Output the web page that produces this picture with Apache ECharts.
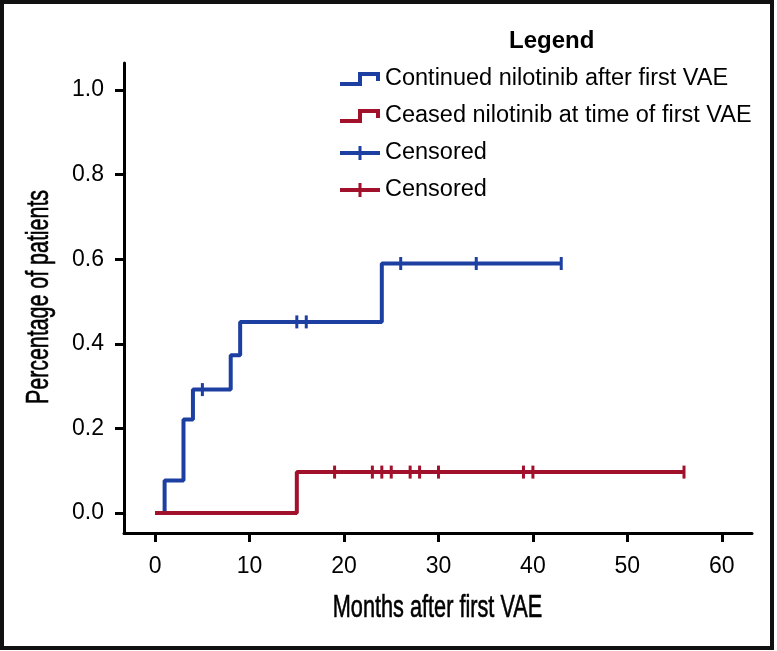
<!DOCTYPE html>
<html>
<head>
    <meta charset="utf-8">
    <script src="https://cdn.jsdelivr.net/npm/echarts@6/dist/echarts.min.js"></script>
    <style>
        html, body { margin: 0; padding: 0; background: #fff; }
        #main { width: 777px; height: 651px; }
    </style>
</head>
<body>
	<div id="main"></div>
	<script type="text/javascript">
		// cumulative incidence steps (months, proportion)
		var contTimes = [0, 1, 3, 4, 8, 9, 24, 43]
		var contValues = [0, 0.077, 0.221, 0.292, 0.373, 0.452, 0.59, 0.59]
		var ceasedTimes = [0, 15, 56]
		var ceasedValues = [0, 0.097, 0.097]
		// censored marks
		var contCensTimes = [5, 15, 16, 26, 34, 43]
		var contCensValues = [0.292, 0.452, 0.452, 0.59, 0.59, 0.59]
		var ceasedCensTimes = [19, 23, 24, 25, 27, 28, 30, 39, 40, 56]
		var ceasedCensValues = [0.097, 0.097, 0.097, 0.097, 0.097, 0.097, 0.097, 0.097, 0.097, 0.097]
		var xTicks = [0, 10, 20, 30, 40, 50, 60]
		var yTicks = [0, 0.2, 0.4, 0.6, 0.8, 1.0]

		var blue = '#1d3fa2'
		var red = '#a1112c'
		var sans = '"Liberation Sans", Arial, sans-serif'

		function pairs(xs, ys){
			var out = []
			for (var i = 0; i < xs.length; i++){
				out.push([xs[i], ys[i]])
			}
			return out
		}

		var stepIcon = 'path://M0,10 L18,10 L18,0 L40,0 L40,9 L36,9 L36,4 L22,4 L22,14 L0,14 Z'
		var censIcon = 'path://M0,5 L18.5,5 L18.5,0 L21.5,0 L21.5,5 L40,5 L40,9 L21.5,9 L21.5,14 L18.5,14 L18.5,9 L0,9 Z'

		var myChart = echarts.init(document.getElementById('main'))
option = {
    animation: false,
    title: {
        text: 'Legend',
        left: 504,
        top: 24,
        textStyle: {
            fontFamily: sans,
            fontSize: 24,
            fontWeight: 'bold',
            color: '#000'
        }
    },
    legend: {
        orient: 'vertical',
        left: 335,
        top: 62,
        itemWidth: 40,
        itemHeight: 14,
        itemGap: 13,
        selectedMode: false,
        itemStyle: { borderWidth: 0 },
        textStyle: {
            fontFamily: sans,
            fontSize: 23.5,
            color: '#000'
        },
        formatter: function (name) {
            return name.indexOf('Censored') === 0 ? 'Censored' : name
        },
        data: [
            { name: 'Continued nilotinib after first VAE', icon: stepIcon },
            { name: 'Ceased nilotinib at time of first VAE', icon: stepIcon },
            { name: 'Censored (continued)', icon: censIcon },
            { name: 'Censored (ceased)', icon: censIcon }
        ]
    },
    grid: {
        left: 124,
        right: 25,
        top: 63,
        bottom: 118
    },
    xAxis: {
        type: 'value',
        min: -3.3,
        max: 63.2,
        splitLine: { show: false },
        axisLine: { show: true, onZero: false, lineStyle: { color: '#000', width: 3 } },
        axisTick: { show: true, customValues: xTicks, length: 9, lineStyle: { color: '#000', width: 3 } },
        axisLabel: { customValues: xTicks, margin: 22, fontFamily: sans, fontSize: 23, color: '#000' }
    },
    yAxis: {
        type: 'value',
        min: -0.047,
        max: 1.064,
        splitLine: { show: false },
        axisLine: { show: true, onZero: false, lineStyle: { color: '#000', width: 3 } },
        axisTick: { show: true, customValues: yTicks, length: 9, lineStyle: { color: '#000', width: 3 } },
        axisLabel: {
            customValues: yTicks,
            margin: 20,
            fontFamily: sans,
            fontSize: 23,
            color: '#000',
            formatter: function (v) { return v.toFixed(1) }
        }
    },
    // condensed axis titles (no narrow font installed, so squeeze them)
    graphic: [{
        type: 'rect',
        shape: { x: 2, y: 2, width: 770, height: 646 },
        style: { fill: 'none', stroke: '#111', lineWidth: 4 },
        silent: true
    },{
        type: 'text',
        x: 437.5,
        y: 608,
        scaleX: 0.7,
        style: {
            text: 'Months after first VAE',
            x: 0, y: 0,
            align: 'center',
            verticalAlign: 'middle',
            font: '31px "Liberation Sans", Arial, sans-serif',
            fill: '#000',
            stroke: '#000',
            lineWidth: 0.6
        },
        silent: true
    },{
        type: 'text',
        x: 39,
        y: 297,
        rotation: Math.PI / 2,
        scaleX: 0.69,
        style: {
            text: 'Percentage of patients',
            x: 0, y: 0,
            align: 'center',
            verticalAlign: 'middle',
            font: '31px "Liberation Sans", Arial, sans-serif',
            fill: '#000',
            stroke: '#000',
            lineWidth: 0.6
        },
        silent: true
    }],
    series: [{
        name: 'Continued nilotinib after first VAE',
        type: 'line',
        step: 'end',
        data: pairs(contTimes, contValues),
        showSymbol: false,
        color: blue,
        lineStyle: { color: blue, width: 4 },
        z: 2
    },{
        name: 'Ceased nilotinib at time of first VAE',
        type: 'line',
        step: 'end',
        data: pairs(ceasedTimes, ceasedValues),
        showSymbol: false,
        color: red,
        lineStyle: { color: red, width: 4 },
        z: 3
    },{
        name: 'Censored (continued)',
        type: 'scatter',
        data: pairs(contCensTimes, contCensValues),
        symbol: 'rect',
        symbolSize: [3, 13],
        color: blue,
        itemStyle: { color: blue, opacity: 1 },
        z: 4
    },{
        name: 'Censored (ceased)',
        type: 'scatter',
        data: pairs(ceasedCensTimes, ceasedCensValues),
        symbol: 'rect',
        symbolSize: [3, 13],
        color: red,
        itemStyle: { color: red, opacity: 1 },
        z: 4
    }]
};
	myChart.setOption(option)
	</script>
</body>
</html>
